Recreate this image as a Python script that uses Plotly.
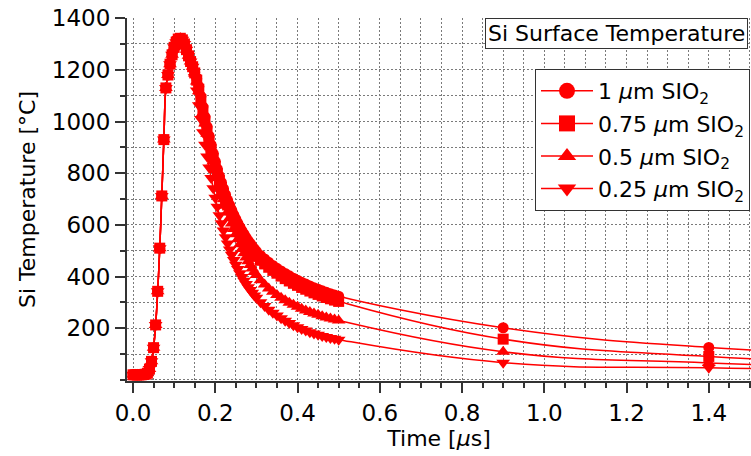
import plotly.graph_objects as go

# ---------------- data ----------------
# common heating part (identical for all oxide thicknesses)
t_rise = [0.000, 0.005, 0.010, 0.015, 0.020, 0.025, 0.030, 0.035, 0.040, 0.045,
          0.050, 0.055, 0.060, 0.065, 0.070, 0.075, 0.080, 0.085, 0.090, 0.095,
          0.100, 0.105, 0.110, 0.115, 0.120, 0.125, 0.130, 0.135, 0.140, 0.145]
T_rise = [20, 20, 20, 20, 20, 21, 22, 26, 42, 72,
          125, 213, 343, 510, 712, 930, 1130, 1180, 1222, 1258,
          1287, 1307, 1319, 1322, 1316, 1300, 1278, 1254, 1232, 1212]

# cooling part, per series
t_fall = [0.150, 0.155, 0.160, 0.165, 0.170, 0.175, 0.180, 0.185, 0.190, 0.195,
          0.200, 0.205, 0.210, 0.215, 0.220, 0.225, 0.230, 0.235, 0.240, 0.245,
          0.250, 0.255, 0.260, 0.265, 0.270, 0.275, 0.280, 0.285, 0.290, 0.295,
          0.300, 0.31, 0.32, 0.33, 0.34, 0.35, 0.36, 0.37, 0.38, 0.39,
          0.40, 0.41, 0.42, 0.43, 0.44, 0.45, 0.46, 0.47, 0.48, 0.49, 0.50]
t_tail = [0.9, 1.4, 1.9]

T_fall_1um = [1190, 1165, 1135, 1097, 1057, 1018, 980, 944, 910, 877,
              846, 817, 790, 764, 740, 717, 696, 676, 657, 639,
              622, 606, 591, 577, 564, 551, 539, 528, 517, 507,
              497, 482, 468, 455, 443, 432, 422, 412, 403, 394,
              386, 378, 371, 364, 357, 351, 345, 339, 334, 329, 324]
T_fall_075um = [1188, 1160, 1125, 1085, 1043, 1002, 963, 926, 891, 858,
                827, 798, 771, 745, 721, 698, 677, 657, 638, 620,
                603, 587, 572, 558, 545, 532, 520, 509, 498, 488,
                478, 463, 449, 436, 424, 413, 402, 392, 383, 374,
                366, 358, 351, 344, 337, 331, 325, 319, 314, 309, 304]
T_fall_05um = [1186, 1155, 1117, 1075, 1033, 992, 953, 915, 879, 845,
               812, 781, 752, 725, 699, 674, 650, 627, 605, 584,
               564, 544, 525, 507, 490, 474, 459, 445, 431, 418,
               406, 386, 369, 354, 341, 329, 318, 308, 299, 291,
               283, 276, 269, 263, 257, 252, 247, 242, 238, 234, 230]
T_fall_025um = [1172, 1120, 1063, 1010, 958, 910, 865, 822, 781, 742,
                705, 670, 637, 606, 578, 552, 528, 505, 484, 464,
                446, 429, 413, 398, 384, 371, 359, 348, 337, 327,
                318, 301, 286, 272, 260, 249, 239, 229, 220, 212,
                204, 197, 191, 185, 180, 175, 170, 166, 162, 159, 156]

T_tail_1um = [202, 126, 95]
T_tail_075um = [158, 91, 62]
T_tail_05um = [109, 66, 44]
T_tail_025um = [67, 47, 36]

series_names = ["1 <i>µ</i>m SIO<sub>2</sub>",
                "0.75 <i>µ</i>m SIO<sub>2</sub>",
                "0.5 <i>µ</i>m SIO<sub>2</sub>",
                "0.25 <i>µ</i>m SIO<sub>2</sub>"]
series_fall = [T_fall_1um, T_fall_075um, T_fall_05um, T_fall_025um]
series_tail = [T_tail_1um, T_tail_075um, T_tail_05um, T_tail_025um]
symbols = ["circle", "square", "triangle-up", "triangle-down"]

x_ticks = [0.0, 0.2, 0.4, 0.6, 0.8, 1.0, 1.2, 1.4]
y_ticks = [200, 400, 600, 800, 1000, 1200, 1400]

# ---------------- figure ----------------
RED = "#ff0000"
FONT = "DejaVu Sans"
fig = go.Figure()

for i, (name, fall, tail, sym) in enumerate(zip(series_names, series_fall, series_tail, symbols)):
    size = 12 if "triangle" in sym else 11
    fig.add_trace(go.Scatter(
        x=t_rise + t_fall + t_tail,
        y=T_rise + fall + tail,
        mode="lines+markers",
        line=dict(color=RED, width=1.5, shape="spline", smoothing=1.3),
        marker=dict(symbol=sym, size=size, color=RED, line=dict(width=0)),
        name=name, legendgroup=f"g{i}", showlegend=False,
        hoverinfo="skip",
    ))
    # legend entry (larger symbol, as in the reference legend)
    fig.add_trace(go.Scatter(
        x=[None], y=[None], mode="lines+markers",
        line=dict(color=RED, width=1.5),
        marker=dict(symbol=sym, size=16, color=RED, line=dict(width=0)),
        name=name, legendgroup=f"g{i}", showlegend=True,
    ))

grid = dict(showgrid=True, gridcolor="#7a7a7a", gridwidth=1, griddash="2px,2px")

fig.update_layout(
    width=751, height=456,
    margin=dict(l=127, r=0, t=18, b=75),
    paper_bgcolor="white", plot_bgcolor="white",
    font=dict(family=FONT, size=22, color="black"),
    showlegend=True,
    legend=dict(
        x=0.9984, xanchor="right", y=0.8595, yanchor="top",
        bgcolor="white", bordercolor="#333333", borderwidth=1,
        font=dict(family=FONT, size=22, color="black"),
        tracegroupgap=1, itemwidth=52,
    ),
    xaxis=dict(
        range=[-0.0146, 1.5026],
        tickmode="array", tickvals=x_ticks, tickformat=".1f",
        ticks="outside", ticklen=10, tickwidth=1.5, tickcolor="#333333",
        showline=True, linecolor="#333333", linewidth=2,
        zeroline=False, **grid,
        minor=dict(tickmode="linear", tick0=0, dtick=0.05, ticks="outside",
                   ticklen=5, tickwidth=1.5, tickcolor="#333333", **grid),
        tickfont=dict(family=FONT, size=23, color="black"),
        title=dict(text="Time [<i>µ</i>s]", standoff=4,
                   font=dict(family=FONT, size=22, color="black")),
    ),
    yaxis=dict(
        range=[-4, 1400.5],
        tickmode="array", tickvals=y_ticks,
        ticks="outside", ticklen=10, tickwidth=1.5, tickcolor="#333333",
        showline=True, linecolor="#333333", linewidth=2,
        zeroline=False, **grid,
        minor=dict(tickmode="linear", tick0=0, dtick=100, ticks="outside",
                   ticklen=5, tickwidth=1.5, tickcolor="#333333", **grid),
        tickfont=dict(family=FONT, size=23, color="black"),
        title=dict(text="Si Temperature [°C]", standoff=10,
                   font=dict(family=FONT, size=22, color="black")),
    ),
    annotations=[dict(
        text="Si Surface Temperature", xref="paper", yref="paper",
        x=0.9952, y=1.0, xanchor="right", yanchor="top", showarrow=False,
        bordercolor="#333333", borderwidth=1, borderpad=2, bgcolor="white",
        font=dict(family=FONT, size=22, color="black"),
    )],
)

fig.write_html("out.html")
